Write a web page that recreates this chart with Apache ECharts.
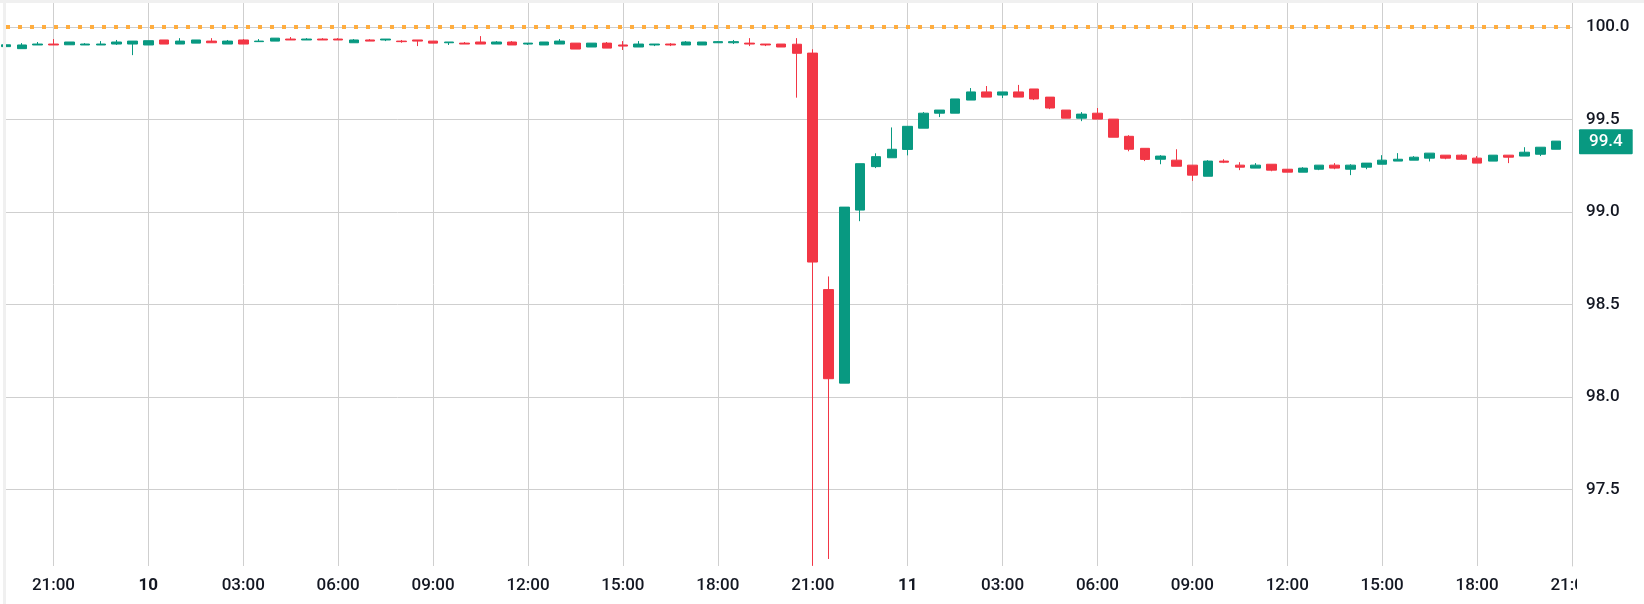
<!DOCTYPE html>
<html>
<head>
<meta charset="utf-8">
<script src="https://cdn.jsdelivr.net/npm/echarts@6/dist/echarts.min.js"></script>
<style>
html,body{margin:0;padding:0;background:#fff;}
#chart{width:1644px;height:604px;}
</style>
</head>
<body>
<div id="chart"></div>
<script>
// 30-minute candles, 9th 19:30 -> 11th 20:30 (last category 11th 21:00 is the axis end)
const categories = [
'9 19:30','9 20:00','9 20:30','9 21:00','9 21:30','9 22:00','9 22:30','9 23:00','9 23:30',
'10 00:00','10 00:30','10 01:00','10 01:30','10 02:00','10 02:30','10 03:00','10 03:30',
'10 04:00','10 04:30','10 05:00','10 05:30','10 06:00','10 06:30','10 07:00','10 07:30',
'10 08:00','10 08:30','10 09:00','10 09:30','10 10:00','10 10:30','10 11:00','10 11:30',
'10 12:00','10 12:30','10 13:00','10 13:30','10 14:00','10 14:30','10 15:00','10 15:30',
'10 16:00','10 16:30','10 17:00','10 17:30','10 18:00','10 18:30','10 19:00','10 19:30',
'10 20:00','10 20:30','10 21:00','10 21:30','10 22:00','10 22:30','10 23:00','10 23:30',
'11 00:00','11 00:30','11 01:00','11 01:30','11 02:00','11 02:30','11 03:00','11 03:30',
'11 04:00','11 04:30','11 05:00','11 05:30','11 06:00','11 06:30','11 07:00','11 07:30',
'11 08:00','11 08:30','11 09:00','11 09:30','11 10:00','11 10:30','11 11:00','11 11:30',
'11 12:00','11 12:30','11 13:00','11 13:30','11 14:00','11 14:30','11 15:00','11 15:30',
'11 16:00','11 16:30','11 17:00','11 17:30','11 18:00','11 18:30','11 19:00','11 19:30',
'11 20:00','11 20:30','11 21:00'
];

const openV = [
99.894,99.883,99.903,99.908,99.904,99.903,99.903,99.908,99.908,99.903,
99.930,99.908,99.913,99.924,99.908,99.930,99.921,99.924,99.935,99.930,
99.935,99.935,99.915,99.930,99.930,99.924,99.930,99.924,99.915,99.913,
99.919,99.908,99.919,99.908,99.903,99.908,99.913,99.892,99.913,99.903,
99.892,99.903,99.908,99.903,99.903,99.915,99.915,99.913,99.908,99.908,
99.907,99.859,98.580,98.074,99.010,99.245,99.293,99.338,99.453,99.534,
99.534,99.605,99.649,99.632,99.649,99.665,99.621,99.551,99.507,99.534,
99.502,99.409,99.344,99.285,99.280,99.253,99.193,99.275,99.253,99.237,
99.258,99.231,99.215,99.231,99.253,99.231,99.242,99.258,99.275,99.280,
99.291,99.307,99.307,99.291,99.275,99.307,99.302,99.312,99.339
];
const closeV = [
99.904,99.903,99.908,99.903,99.919,99.908,99.908,99.919,99.924,99.926,
99.908,99.924,99.930,99.915,99.924,99.908,99.924,99.940,99.930,99.935,
99.930,99.930,99.930,99.924,99.935,99.921,99.924,99.913,99.919,99.908,
99.908,99.919,99.903,99.913,99.919,99.924,99.881,99.913,99.886,99.897,
99.908,99.908,99.903,99.919,99.919,99.921,99.921,99.908,99.903,99.892,
99.858,98.729,98.098,99.026,99.261,99.299,99.339,99.463,99.534,99.551,
99.611,99.649,99.621,99.649,99.621,99.611,99.562,99.507,99.529,99.502,
99.404,99.339,99.284,99.302,99.247,99.199,99.275,99.269,99.242,99.253,
99.226,99.215,99.237,99.253,99.237,99.253,99.264,99.280,99.285,99.296,
99.318,99.291,99.285,99.264,99.307,99.296,99.323,99.350,99.383
];
// the 21:00 candle's low runs off the bottom of the visible range; kept at the visible edge
const lowV = [
99.894,99.883,99.903,99.903,99.904,99.903,99.903,99.903,99.848,99.903,
99.908,99.908,99.913,99.915,99.908,99.908,99.921,99.924,99.930,99.930,
99.930,99.930,99.915,99.924,99.924,99.915,99.897,99.913,99.903,99.908,
99.908,99.908,99.903,99.903,99.903,99.908,99.881,99.892,99.886,99.876,
99.892,99.897,99.897,99.903,99.903,99.915,99.908,99.897,99.897,99.892,
99.618,97.086,97.123,98.074,98.950,99.237,99.293,99.306,99.453,99.513,
99.534,99.605,99.621,99.616,99.621,99.605,99.556,99.507,99.491,99.502,
99.404,99.328,99.275,99.258,99.247,99.168,99.193,99.264,99.226,99.237,
99.220,99.215,99.215,99.226,99.231,99.199,99.231,99.258,99.275,99.280,
99.273,99.285,99.285,99.264,99.275,99.264,99.302,99.302,99.339
];
const highV = [
99.904,99.913,99.919,99.935,99.919,99.913,99.924,99.930,99.924,99.926,
99.930,99.940,99.930,99.940,99.930,99.935,99.935,99.940,99.946,99.940,
99.940,99.940,99.935,99.935,99.935,99.930,99.930,99.924,99.919,99.919,
99.951,99.924,99.924,99.913,99.919,99.935,99.913,99.913,99.919,99.924,
99.924,99.908,99.913,99.924,99.919,99.924,99.930,99.940,99.908,99.908,
99.940,99.880,98.651,99.026,99.261,99.317,99.457,99.463,99.540,99.551,
99.611,99.670,99.681,99.649,99.687,99.665,99.621,99.551,99.540,99.562,
99.502,99.415,99.344,99.307,99.339,99.253,99.280,99.285,99.269,99.264,
99.258,99.231,99.242,99.253,99.264,99.258,99.264,99.307,99.318,99.302,
99.318,99.307,99.312,99.302,99.307,99.307,99.350,99.350,99.383
];

const yTicks = [97.5, 98.0, 98.5, 99.0, 99.5, 100.0];
const refLevel = 100.0;
const lastPriceLabel = '99.4';

const UP = '#089981', DOWN = '#F23645', TXT = '#131722', GRID = '#cfcfcf';
const FONT = 'Roboto, "Noto Sans", sans-serif';

const candles = categories.map((c, i) =>
  i < openV.length ? [openV[i], closeV[i], lowV[i], highV[i]] : '-');

function isMajor(idx, val) {
  const t = val.split(' ')[1];
  const h = parseInt(t.slice(0, 2), 10);
  return t.slice(3) === '00' && h % 3 === 0;
}

const chart = echarts.init(document.getElementById('chart'), null, {renderer: 'canvas'});
chart.setOption({
  animation: false,
  backgroundColor: '#ffffff',
  textStyle: {fontFamily: FONT},
  grid: {left: 6, right: 72, top: 3, bottom: 38},
  xAxis: {
    type: 'category',
    data: categories,
    boundaryGap: false,
    axisLine: {show: false},
    axisTick: {show: false},
    splitLine: {show: true, interval: isMajor, lineStyle: {color: GRID, width: 1}},
    axisLabel: {
      interval: isMajor,
      margin: 11,
      color: TXT,
      fontSize: 17,
      fontWeight: 500,
      fontFamily: FONT,
      formatter: function (val) {
        const p = val.split(' ');
        if (p[1] === '00:00') return '{b|' + p[0] + '}';
        return p[1];
      },
      rich: {b: {fontWeight: 'bold', fontSize: 17, color: TXT, fontFamily: FONT}}
    }
  },
  yAxis: {
    type: 'value',
    position: 'right',
    min: 97.085,
    max: 100.13,
    scale: true,
    axisLine: {show: true, lineStyle: {color: GRID, width: 1}},
    axisTick: {show: false, customValues: yTicks},
    splitLine: {show: true, lineStyle: {color: GRID, width: 1}},
    axisLabel: {
      customValues: yTicks,
      margin: 14,
      color: TXT,
      fontSize: 17,
      fontWeight: 500,
      fontFamily: FONT,
      formatter: v => v.toFixed(1)
    }
  },
  series: [{
    type: 'candlestick',
    data: candles,
    barWidth: 10,
    clip: true,
    itemStyle: {color: UP, color0: DOWN, borderColor: UP, borderColor0: DOWN, borderWidth: 1},
    markLine: {
      silent: true,
      symbol: ['none', 'none'],
      animation: false,
      data: [
        {yAxis: refLevel, lineStyle: {color: '#FFAD3F', width: 4, type: [4, 8], cap: 'butt', opacity: 1}, label: {show: false}},
        {yAxis: closeV[closeV.length - 1], lineStyle: {color: 'rgba(0,0,0,0)', width: 0}, label: {
          show: true, position: 'end', distance: 7, formatter: lastPriceLabel,
          backgroundColor: UP, color: '#ffffff', fontSize: 17, fontWeight: 500, fontFamily: FONT,
          padding: [3, 10, 2, 10], lineHeight: 20, borderRadius: 1
        }}
      ]
    }
  }],
  graphic: [
    {type: 'rect', left: 1577, top: 568, shape: {width: 70, height: 36}, style: {fill: '#ffffff'}, z: 100},
    {type: 'rect', left: 0, top: 0, shape: {width: 1644, height: 3}, style: {fill: '#f0f0f0'}, z: 100},
    {type: 'rect', left: 3, top: 0, shape: {width: 3, height: 604}, style: {fill: '#f0f0f0'}, z: 100}
  ]
});
</script>
</body>
</html>
